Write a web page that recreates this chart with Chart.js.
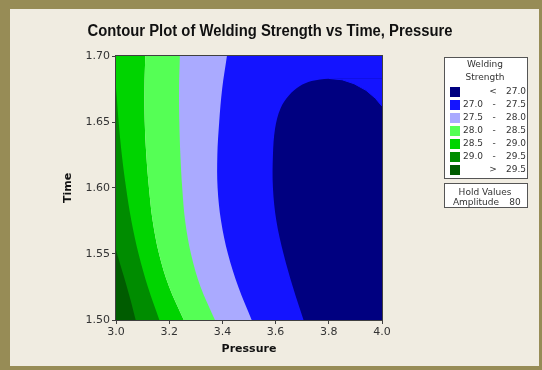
<!DOCTYPE html>
<html>
<head>
<meta charset="utf-8">
<title>Contour Plot of Welding Strength vs Time, Pressure</title>
<script src="https://cdn.jsdelivr.net/npm/chart.js@4"></script>
<style>
  html, body { margin: 0; padding: 0; background: #f0ece1; }
  canvas { display: block; }
</style>
</head>
<body>
<canvas id="contour" width="542" height="370"></canvas>
<script>
// axes
const pressureRange = [3.0, 4.0];
const timeRange = [1.50, 1.70];
const pressureTicks = ['3.0', '3.2', '3.4', '3.6', '3.8', '4.0'];
const timeTicks = ['1.50', '1.55', '1.60', '1.65', '1.70'];

// contour levels and band colours (band 0 is "< 27.0", band 6 is "> 29.5")
const levels = [27.0, 27.5, 28.0, 28.5, 29.0, 29.5];
const bandColors = ['#000080', '#1414ff', '#aaaaff', '#55ff55', '#00d400', '#008c00', '#005c00'];

// contour lines: pressure at each time
const time295 = [1.50, 1.515, 1.53, 1.542, 1.553];
const pres295 = [3.074, 3.055, 3.034, 3.016, 3.000];

const time290 = [1.50, 1.525, 1.55, 1.575, 1.60, 1.625, 1.65, 1.666, 1.676];
const pres290 = [3.163, 3.120, 3.085, 3.058, 3.038, 3.022, 3.010, 3.004, 3.000];

const time285 = [1.50, 1.525, 1.55, 1.575, 1.60, 1.625, 1.65, 1.675, 1.70];
const pres285 = [3.255, 3.200, 3.162, 3.138, 3.124, 3.114, 3.108, 3.107, 3.110];

const time280 = [1.50, 1.525, 1.55, 1.575, 1.60, 1.625, 1.65, 1.675, 1.70];
const pres280 = [3.372, 3.318, 3.282, 3.260, 3.249, 3.242, 3.238, 3.237, 3.240];

const time275 = [1.50, 1.525, 1.55, 1.575, 1.60, 1.625, 1.65, 1.675, 1.70];
const pres275 = [3.510, 3.460, 3.421, 3.395, 3.382, 3.381, 3.388, 3.399, 3.417];

// the 27.0 line closes on itself: left branch up to the crest, right branch from the edge up to the crest
const time270a = [1.50, 1.525, 1.55, 1.575, 1.60, 1.625, 1.645, 1.66, 1.67, 1.677, 1.681, 1.683];
const pres270a = [3.705, 3.665, 3.630, 3.603, 3.590, 3.590, 3.598, 3.618, 3.650, 3.690, 3.735, 3.800];
const time270b = [1.662, 1.668, 1.674, 1.679, 1.682, 1.683];
const pres270b = [4.000, 3.975, 3.940, 3.895, 3.850, 3.800];

const holdName = 'Amplitude';
const holdValue = '80';

function curve(times, pressures) {
    return times.map((t, i) => ({ x: pressures[i], y: t }));
}

// fill a contour line towards the right (lower strength) or left (higher strength) edge
function band(times, pressures, color, side, order, tension = 0.35) {
    return {
        data: curve(times, pressures),
        backgroundColor: color,
        borderWidth: 0,
        pointRadius: 0,
        tension: tension,
        fill: { value: side === 'right' ? pressureRange[1] : pressureRange[0] },
        order: order
    };
}

// small cap right of the crest of the 27.0 line (straight segments, with a border in the same colour)
const crestCap = band(time270b, pres270b, bandColors[1], 'right', 6, 0);
crestCap.borderWidth = 1;
crestCap.borderColor = bandColors[1];

// lower order is painted later, i.e. on top
const datasets = [
    band(time285, pres285, bandColors[3], 'right', 10),
    band(time280, pres280, bandColors[2], 'right', 9),
    band(time275, pres275, bandColors[1], 'right', 8),
    band(time270a, pres270a, bandColors[0], 'right', 7),
    crestCap,
    band(time285, pres285, bandColors[4], 'left', 10),
    band(time290, pres290, bandColors[5], 'left', 9),
    band(time295, pres295, bandColors[6], 'left', 8)
];

const olive = '#978c56';
const paper = '#f0ece1';
const ink = '#333333';

// frame, title, plot border and the legend boxes
const decor = {
    id: 'decor',
    beforeDraw(chart) {
        const { ctx, width, height } = chart;
        ctx.save();
        ctx.fillStyle = olive;
        ctx.fillRect(0, 0, width, height);
        ctx.fillStyle = paper;
        ctx.fillRect(10, 9, width - 13, height - 13);
        ctx.restore();
    },
    afterDraw(chart) {
        const { ctx, chartArea: a } = chart;
        ctx.save();

        // plot border
        ctx.strokeStyle = '#404040';
        ctx.lineWidth = 1;
        ctx.strokeRect(a.left - 0.5, a.top - 0.5, a.right - a.left + 1, a.bottom - a.top + 1);

        // title
        const title = 'Contour Plot of Welding Strength vs Time, Pressure';
        ctx.font = 'bold 16px "Liberation Sans", Arial, sans-serif';
        ctx.fillStyle = '#111';
        ctx.textBaseline = 'middle';
        ctx.textAlign = 'center';
        const tw = ctx.measureText(title).width;
        const sx = Math.min(1, 365 / tw);
        ctx.save();
        ctx.translate(270, 32);
        ctx.scale(sx, 1);
        ctx.fillText(title, 0, 0);
        ctx.restore();

        // legend box
        const lx = 444, ly = 57, lw = 83, lh = 121;
        ctx.fillStyle = '#ffffff';
        ctx.fillRect(lx, ly, lw, lh);
        ctx.strokeStyle = '#555';
        ctx.strokeRect(lx + 0.5, ly + 0.5, lw, lh);

        ctx.font = '9px "DejaVu Sans", sans-serif';
        ctx.fillStyle = ink;
        ctx.fillText('Welding', 485, 65);
        ctx.fillText('Strength', 485, 78);

        for (let i = 0; i < bandColors.length; i++) {
            const y = 92 + i * 13;
            ctx.fillStyle = bandColors[i];
            ctx.fillRect(450, y - 5, 10, 10);
            ctx.fillStyle = ink;
            if (i === 0) {
                ctx.fillText('<', 493, y);
                ctx.fillText(levels[0].toFixed(1), 516, y);
            } else if (i === bandColors.length - 1) {
                ctx.fillText('>', 493, y);
                ctx.fillText(levels[levels.length - 1].toFixed(1), 516, y);
            } else {
                ctx.fillText(levels[i - 1].toFixed(1), 473, y);
                ctx.fillText('-', 494, y);
                ctx.fillText(levels[i].toFixed(1), 516, y);
            }
        }

        // hold values box
        const hy = 183, hh = 24;
        ctx.fillStyle = '#ffffff';
        ctx.fillRect(lx, hy, lw, hh);
        ctx.strokeRect(lx + 0.5, hy + 0.5, lw, hh);
        ctx.fillStyle = ink;
        ctx.fillText('Hold Values', 485, hy + 10);
        ctx.fillText(holdName, 476, hy + 20);
        ctx.fillText(holdValue, 515, hy + 20);

        ctx.restore();
    }
};

const tickFont = { family: '"DejaVu Sans", sans-serif', size: 11 };
const titleFont = { family: '"DejaVu Sans", sans-serif', size: 11, weight: 'bold' };

new Chart(document.getElementById('contour'), {
    type: 'line',
    data: { datasets },
    options: {
        indexAxis: 'y',
        responsive: false,
        animation: false,
        events: [],
        layout: { padding: { left: 10, top: 56, right: 160, bottom: 4 } },
        plugins: {
            legend: { display: false },
            tooltip: { enabled: false },
            title: { display: false }
        },
        scales: {
            x: {
                type: 'linear',
                min: pressureRange[0],
                max: pressureRange[1],
                afterBuildTicks: s => { s.ticks = pressureTicks.map(v => ({ value: parseFloat(v) })); },
                afterFit: s => { s.height = 46; },
                ticks: {
                    font: tickFont,
                    color: ink,
                    padding: 2,
                    autoSkip: false,
                    maxRotation: 0,
                    callback: v => v.toFixed(1)
                },
                grid: { drawOnChartArea: false, drawTicks: true, tickLength: 4, color: '#404040' },
                border: { display: false },
                title: {
                    display: true,
                    text: 'Pressure',
                    font: titleFont,
                    color: '#111',
                    padding: { top: 0, bottom: 10 }
                }
            },
            y: {
                type: 'linear',
                min: timeRange[0],
                max: timeRange[1],
                afterBuildTicks: s => { s.ticks = timeTicks.map(v => ({ value: parseFloat(v) })); },
                afterFit: s => { s.width = 106; },
                ticks: {
                    font: tickFont,
                    color: ink,
                    padding: 2,
                    autoSkip: false,
                    callback: v => v.toFixed(2)
                },
                grid: { drawOnChartArea: false, drawTicks: true, tickLength: 4, color: '#404040' },
                border: { display: false },
                title: {
                    display: true,
                    text: 'Time',
                    font: titleFont,
                    color: '#111',
                    padding: { top: 52, bottom: 0 }
                }
            }
        }
    },
    plugins: [decor]
});
</script>
</body>
</html>
